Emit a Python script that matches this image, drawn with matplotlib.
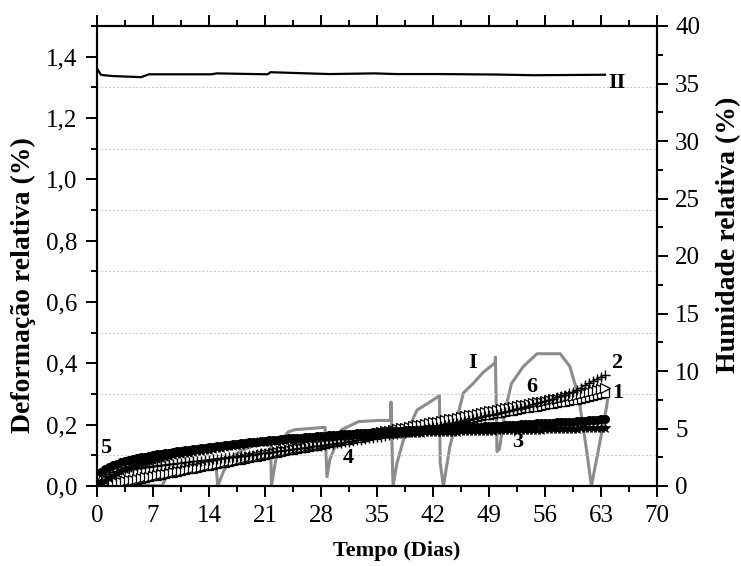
import numpy as np
import matplotlib.pyplot as plt
from matplotlib.ticker import MultipleLocator, FuncFormatter

plt.rcParams['font.family'] = ['Liberation Serif', 'DejaVu Serif']

# ---- deformation series (left axis), one value every 0.5 day starting at t = 0 ----
s5 = [0.000, 0.047, 0.056, 0.063, 0.068, 0.073, 0.077, 0.081, 0.084, 0.087,
      0.090, 0.093, 0.096, 0.098, 0.101, 0.103, 0.105, 0.107, 0.109, 0.111,
      0.113, 0.115, 0.117, 0.118, 0.120, 0.122, 0.123, 0.125, 0.127, 0.128,
      0.130, 0.132, 0.133, 0.135, 0.136, 0.138, 0.139, 0.141, 0.142, 0.144,
      0.145, 0.146, 0.148, 0.149, 0.150, 0.151, 0.152, 0.153, 0.155, 0.156,
      0.157, 0.158, 0.159, 0.160, 0.161, 0.162, 0.163, 0.164, 0.165, 0.166,
      0.167, 0.168, 0.169, 0.170, 0.171, 0.172, 0.172, 0.173, 0.174, 0.175,
      0.176, 0.177, 0.177, 0.178, 0.179, 0.180, 0.180, 0.181, 0.182, 0.183,
      0.183, 0.184, 0.185, 0.185, 0.186, 0.187, 0.187, 0.188, 0.189, 0.189,
      0.190, 0.191, 0.191, 0.192, 0.193, 0.193, 0.194, 0.195, 0.195, 0.196,
      0.197, 0.197, 0.198, 0.199, 0.199, 0.200, 0.201, 0.201, 0.202, 0.203,
      0.204, 0.205, 0.206, 0.206, 0.207, 0.208, 0.208, 0.209, 0.210, 0.210,
      0.211, 0.212, 0.213, 0.214, 0.215, 0.216, 0.217, 0.218]

s3 = [0.000, 0.008, 0.016, 0.025, 0.033, 0.041, 0.048, 0.054, 0.060, 0.065,
      0.070, 0.074, 0.078, 0.082, 0.086, 0.089, 0.092, 0.095, 0.098, 0.100,
      0.103, 0.105, 0.107, 0.109, 0.111, 0.113, 0.115, 0.117, 0.119, 0.121,
      0.123, 0.125, 0.127, 0.129, 0.131, 0.133, 0.135, 0.137, 0.139, 0.140,
      0.142, 0.143, 0.144, 0.145, 0.146, 0.147, 0.148, 0.149, 0.150, 0.151,
      0.152, 0.153, 0.154, 0.155, 0.156, 0.157, 0.158, 0.159, 0.160, 0.161,
      0.162, 0.163, 0.164, 0.164, 0.165, 0.166, 0.166, 0.167, 0.168, 0.168,
      0.169, 0.169, 0.170, 0.170, 0.171, 0.171, 0.172, 0.172, 0.173, 0.173,
      0.174, 0.174, 0.175, 0.175, 0.175, 0.176, 0.176, 0.176, 0.177, 0.177,
      0.177, 0.178, 0.178, 0.178, 0.179, 0.179, 0.179, 0.180, 0.180, 0.180,
      0.181, 0.181, 0.181, 0.182, 0.182, 0.182, 0.183, 0.183, 0.183, 0.184,
      0.184, 0.184, 0.185, 0.185, 0.185, 0.186, 0.186, 0.186, 0.187, 0.187,
      0.187, 0.188, 0.188, 0.188, 0.189, 0.189, 0.189, 0.190]

s2 = [0.000, 0.020, 0.032, 0.040, 0.045, 0.049, 0.052, 0.054, 0.056, 0.057,
      0.059, 0.060, 0.062, 0.063, 0.065, 0.066, 0.068, 0.069, 0.071, 0.072,
      0.074, 0.075, 0.077, 0.078, 0.080, 0.081, 0.083, 0.084, 0.086, 0.087,
      0.089, 0.090, 0.092, 0.093, 0.095, 0.096, 0.098, 0.099, 0.101, 0.102,
      0.104, 0.106, 0.108, 0.109, 0.111, 0.113, 0.115, 0.116, 0.118, 0.120,
      0.122, 0.123, 0.125, 0.127, 0.129, 0.130, 0.132, 0.134, 0.136, 0.137,
      0.139, 0.141, 0.143, 0.145, 0.147, 0.149, 0.151, 0.153, 0.155, 0.157,
      0.159, 0.161, 0.163, 0.165, 0.168, 0.170, 0.172, 0.174, 0.177, 0.179,
      0.181, 0.184, 0.186, 0.189, 0.191, 0.194, 0.196, 0.199, 0.201, 0.204,
      0.206, 0.209, 0.212, 0.215, 0.218, 0.221, 0.224, 0.227, 0.230, 0.233,
      0.236, 0.239, 0.242, 0.245, 0.249, 0.252, 0.255, 0.259, 0.262, 0.266,
      0.270, 0.273, 0.277, 0.281, 0.285, 0.289, 0.293, 0.297, 0.302, 0.306,
      0.314, 0.321, 0.328, 0.335, 0.342, 0.349, 0.356, 0.362]

s1 = [0.000, 0.004, 0.006, 0.008, 0.010, 0.012, 0.014, 0.016, 0.018, 0.020,
      0.023, 0.025, 0.028, 0.030, 0.033, 0.035, 0.038, 0.040, 0.043, 0.045,
      0.048, 0.050, 0.053, 0.055, 0.058, 0.060, 0.063, 0.065, 0.068, 0.070,
      0.073, 0.075, 0.078, 0.080, 0.083, 0.085, 0.088, 0.090, 0.093, 0.095,
      0.098, 0.100, 0.103, 0.105, 0.108, 0.110, 0.113, 0.115, 0.118, 0.120,
      0.123, 0.125, 0.128, 0.130, 0.133, 0.135, 0.138, 0.140, 0.143, 0.145,
      0.148, 0.150, 0.153, 0.155, 0.158, 0.160, 0.163, 0.165, 0.168, 0.170,
      0.173, 0.175, 0.178, 0.180, 0.183, 0.185, 0.188, 0.190, 0.193, 0.195,
      0.198, 0.200, 0.203, 0.205, 0.208, 0.210, 0.213, 0.215, 0.218, 0.220,
      0.223, 0.225, 0.228, 0.230, 0.233, 0.235, 0.238, 0.240, 0.243, 0.245,
      0.248, 0.250, 0.253, 0.255, 0.258, 0.260, 0.263, 0.265, 0.268, 0.270,
      0.273, 0.275, 0.278, 0.280, 0.283, 0.285, 0.288, 0.290, 0.293, 0.295,
      0.298, 0.301, 0.304, 0.307, 0.310, 0.313, 0.316, 0.319]

s6 = [0.000, 0.003, 0.005, 0.007, 0.009, 0.011, 0.013, 0.015, 0.017, 0.019,
      0.021, 0.024, 0.026, 0.029, 0.031, 0.034, 0.036, 0.039, 0.041, 0.044,
      0.046, 0.049, 0.051, 0.054, 0.056, 0.059, 0.061, 0.064, 0.066, 0.069,
      0.071, 0.074, 0.076, 0.079, 0.081, 0.084, 0.086, 0.089, 0.091, 0.094,
      0.096, 0.099, 0.101, 0.104, 0.106, 0.108, 0.111, 0.113, 0.116, 0.118,
      0.120, 0.123, 0.125, 0.127, 0.130, 0.132, 0.135, 0.137, 0.139, 0.142,
      0.144, 0.146, 0.149, 0.151, 0.153, 0.156, 0.158, 0.160, 0.163, 0.165,
      0.167, 0.170, 0.172, 0.174, 0.177, 0.179, 0.181, 0.184, 0.186, 0.188,
      0.191, 0.193, 0.195, 0.198, 0.200, 0.202, 0.205, 0.207, 0.209, 0.211,
      0.214, 0.216, 0.218, 0.221, 0.223, 0.225, 0.227, 0.230, 0.232, 0.234,
      0.237, 0.239, 0.241, 0.243, 0.246, 0.248, 0.250, 0.253, 0.255, 0.257,
      0.259, 0.262, 0.264, 0.266, 0.268, 0.271, 0.273, 0.275, 0.277, 0.280,
      0.282, 0.285, 0.288, 0.291, 0.294, 0.297, 0.300, 0.303]

# ---- humidity (right axis) ----
hum_I_t = [0.0, 3.0, 8.1, 8.7, 10.0, 12.0, 14.8, 15.1, 15.8, 16.8, 18.1, 20.0, 21.7,
           21.8, 22.4, 23.0, 23.9, 24.75, 28.5, 28.75, 29.1, 30.6, 32.7, 35.2, 36.7,
           36.75, 37.0, 37.5, 38.3, 40.0, 41.6, 42.8, 42.9, 43.3, 44.1, 45.8, 47.0,
           48.3, 49.75, 49.8, 50.0, 50.3, 51.0, 51.8, 53.3, 55.0, 57.9, 59.1, 60.2,
           61.2, 61.8, 62.5, 63.7, 63.9]
hum_I = [0.0, 0.2, 0.0, 0.8, 1.3, 1.8, 2.3, 0.0, 1.25, 2.5, 3.1, 3.6, 4.0,
         0.0, 2.5, 4.0, 4.7, 4.9, 5.1, 0.8, 2.3, 4.9, 5.6, 5.7, 5.7,
         7.3, 0.0, 2.0, 4.0, 6.6, 7.3, 7.85, 2.0, 0.0, 3.4, 8.1, 8.9,
         9.9, 10.7, 11.2, 3.0, 3.2, 6.5, 8.9, 10.4, 11.5, 11.5, 10.4, 7.8,
         3.1, 0.0, 2.5, 6.9, 7.9]

hum_II_t = [0.0, 0.5, 1.9, 3.7, 5.5, 6.5, 7.9, 14.3, 15.0, 21.3, 21.7, 23.1,
            29.1, 34.7, 37.4, 43.0, 49.9, 54.5, 63.5]
hum_II = [36.3, 35.75, 35.65, 35.6, 35.55, 35.8, 35.8, 35.8, 35.88, 35.8, 35.98, 35.95,
          35.82, 35.88, 35.82, 35.82, 35.78, 35.72, 35.76]

# curve labels: (text, day, deformation)
curve_labels = [('5', 1.1, 0.124), ('4', 31.4, 0.091), ('3', 52.6, 0.143),
                ('6', 54.4, 0.323), ('1', 65.1, 0.303), ('2', 65.0, 0.401),
                ('I', 47.0, 0.401), ('II', 65.0, 1.314)]

fig = plt.figure(figsize=(7.41, 5.66), dpi=100)
ax = fig.add_axes([97 / 741, 1 - 486 / 566, 560 / 741, 460 / 566])
ax2 = ax.twinx()
ax.set_zorder(ax2.get_zorder() + 1)
ax.patch.set_visible(False)

# humidity curves
ax2.plot(hum_I_t, hum_I, color='#8c8c8c', linewidth=2.2)
ax2.plot(hum_II_t, hum_II, color='black', linewidth=1.6)

# deformation curves
def tgrid(vals):
    return 0.5 * np.arange(len(vals))

ax.plot(tgrid(s6), s6, color='black', lw=0.8, marker='s', ms=5.5,
        mfc='white', mec='black', mew=0.9)
ax.plot(tgrid(s1), s1, color='black', lw=0.8, marker='>', ms=7,
        mfc='white', mec='black', mew=0.9)
ax.plot(tgrid(s2), s2, color='black', lw=0.8, marker='+', ms=7, mew=1.0)
ax.plot(tgrid(s3), s3, color='black', lw=0.8, marker='*', ms=7.5,
        mfc='black', mec='black', mew=0.5)
ax.plot(tgrid(s5), s5, color='black', lw=0.8, marker='o', ms=5.5,
        mfc='black', mec='black')

for txt, x, y in curve_labels:
    ax.text(x, y, txt, fontsize=16, fontweight='bold', ha='center', va='center')

# dotted reference lines
for yv in np.arange(0.1, 1.4, 0.2):
    ax.axhline(yv, color='#c8c8c8', linestyle=(0, (2, 2)), linewidth=0.7, zorder=0)

ax.set_xlim(0, 70)
ax.set_ylim(0, 1.5)
ax2.set_ylim(0, 40)

ax.xaxis.set_major_locator(MultipleLocator(7))
ax.xaxis.set_minor_locator(MultipleLocator(3.5))
ax.yaxis.set_major_locator(MultipleLocator(0.2))
ax.yaxis.set_minor_locator(MultipleLocator(0.1))
ax.yaxis.set_major_formatter(FuncFormatter(lambda v, p: f'{v:.1f}'.replace('.', ',')))
ax2.yaxis.set_major_locator(MultipleLocator(5))
ax2.yaxis.set_minor_locator(MultipleLocator(2.5))

ax.tick_params(axis='x', which='both', direction='out', top=True, labelsize=18, pad=6)
ax.tick_params(axis='y', which='both', direction='out', right=False, labelsize=18, pad=6)
for a in (ax, ax2):
    a.tick_params(which='major', length=8, width=1.4)
    a.tick_params(which='minor', length=4, width=1.4)
    for sp in a.spines.values():
        sp.set_linewidth(1.5)
ax2.tick_params(axis='y', which='both', direction='out', labelsize=18, pad=5)

ax.set_xlabel('Tempo (Dias)', fontsize=16, fontweight='bold')
ax.set_ylabel('Deformação relativa (%)', fontsize=20, fontweight='bold')
ax2.set_ylabel('Humidade relativa (%)', fontsize=20, fontweight='bold')
ax.xaxis.set_label_coords(0.536, -0.12)
ax.yaxis.set_label_coords(-0.109, 0.437)
ax2.yaxis.set_label_coords(1.105, 0.546)

fig.savefig('out.png', dpi=100)
